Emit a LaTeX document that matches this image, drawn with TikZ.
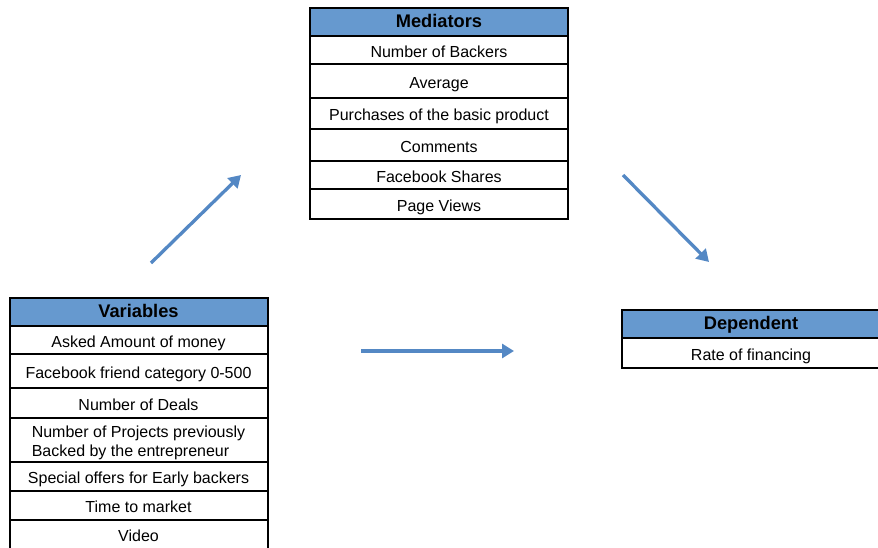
\documentclass[tikz,border=0pt]{standalone}
\usepackage{fontspec}
\setmainfont{Liberation Sans}
\usetikzlibrary{arrows.meta}

\definecolor{headblue}{RGB}{102,153,207}
\definecolor{linkblue}{RGB}{84,136,196}

\tikzset{
  cell/.style={draw, line width=1.5pt, minimum width=193.5pt, inner sep=0pt, anchor=north,
    align=center, text height=13pt, text depth=2pt, font=\fontsize{12}{14}\selectfont},
  head/.style={cell, fill=headblue, text height=11.5pt, text depth=3pt,
    font=\fontsize{13.7}{15}\selectfont\bfseries},
  link/.style={draw=linkblue, line width=2.5pt, -{Triangle[length=9pt,width=10.5pt]}}
}

\begin{document}
\begin{tikzpicture}[x=0.75pt,y=0.75pt,yscale=-1,xscale=1]
\useasboundingbox (0,0) rectangle (878,548);

%Table: Mediators
\node [head, minimum height=21pt] (med) at (439,7) {Mediators};
\node [cell, minimum height=21pt] (med1) at (439,35) {Number of Backers};
\node [cell, minimum height=25.5pt] (med2) at (439,63) {Average};
\node [cell, minimum height=23.25pt] (med3) at (439,97) {Purchases of the basic product};
\node [cell, minimum height=24pt] (med4) at (439,128) {Comments};
\node [cell, minimum height=21pt] (med5) at (439,160) {Facebook Shares};
\node [cell, minimum height=22.5pt] (med6) at (439,188) {Page Views};

%Table: Variables
\node [head, minimum height=21pt] (var) at (138.5,297) {Variables};
\node [cell, minimum height=21pt] (var1) at (138.5,325) {Asked Amount of money};
\node [cell, minimum height=25.5pt] (var2) at (138.5,353) {Facebook friend category 0-500};
\node [cell, minimum height=22.5pt] (var3) at (138.5,387) {Number of Deals};
\node [cell, minimum height=33pt, align=left, text height=27pt] (var4) at (138.5,417) {Number of Projects previously\\Backed by the entrepreneur};
\node [cell, minimum height=21.75pt] (var5) at (138.5,461) {Special offers for Early backers};
\node [cell, minimum height=21.75pt] (var6) at (138.5,490) {Time to market};
\node [cell, minimum height=21.75pt] (var7) at (138.5,519) {Video};

%Table: Dependent
\node [head, minimum height=21pt] (dep) at (751,309) {Dependent};
\node [cell, minimum height=22.5pt] (dep1) at (751,337) {Rate of financing};

%Arrows
\coordinate (up0) at (151,263);
\coordinate (up1) at (241,175);
\coordinate (mid0) at (361,351);
\coordinate (mid1) at (514,351);
\coordinate (down0) at (623,175);
\coordinate (down1) at (709,262);

\draw [link] (up0) -- (up1);
\draw [link] (mid0) -- (mid1);
\draw [link] (down0) -- (down1);

\end{tikzpicture}
\end{document}
